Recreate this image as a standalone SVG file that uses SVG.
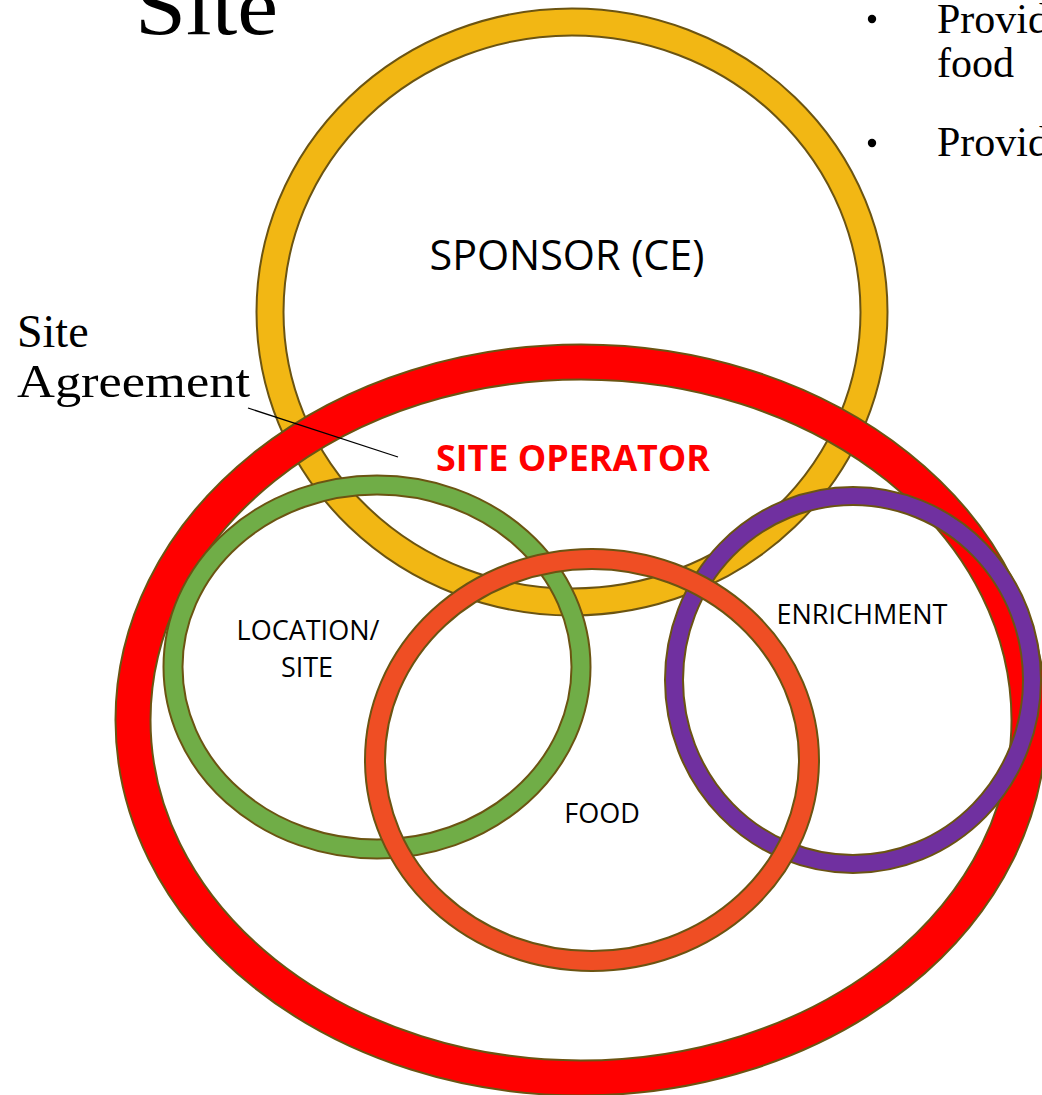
<svg xmlns="http://www.w3.org/2000/svg" width="1042" height="1095" viewBox="0 0 1042 1095">
<style>
.edge{fill:none;stroke:#6b5412}
.ring{fill:none}
.serif{font-family:"Liberation Serif","Times New Roman",serif;fill:#000}
.sans{font-family:"Open Sans","Liberation Sans",sans-serif;fill:#000}
.lbl{font-size:27px;text-anchor:middle}
</style>
<rect width="1042" height="1095" fill="#fff"/>
<text class="serif" x="135" y="34" font-size="82" textLength="143" lengthAdjust="spacingAndGlyphs">Site</text>
<g id="bullets">
<circle cx="872" cy="19" r="4.2" fill="#000"/>
<text class="serif" x="937" y="33" font-size="42">Provide</text>
<text class="serif" x="937" y="77" font-size="42">food</text>
<circle cx="872" cy="143" r="4.2" fill="#000"/>
<text class="serif" x="937" y="156" font-size="42">Provide</text>
</g>
<g id="sponsor">
<ellipse class="edge" cx="572" cy="312" rx="302" ry="290" stroke-width="29"/>
<ellipse class="ring" cx="572" cy="312" rx="302" ry="290" stroke="#f2b714" stroke-width="25"/>
<text class="sans" x="567" y="270" font-size="42" text-anchor="middle" textLength="275" lengthAdjust="spacingAndGlyphs">SPONSOR (CE)</text>
</g>
<g id="site-operator">
<ellipse class="edge" cx="581" cy="720" rx="448" ry="358" stroke-width="37"/>
<ellipse class="ring" cx="581" cy="720" rx="448" ry="358" stroke="#ff0000" stroke-width="33"/>
<text class="sans" x="573" y="471" font-size="36" font-weight="bold" style="fill:#ff0000" text-anchor="middle" textLength="274" lengthAdjust="spacingAndGlyphs">SITE OPERATOR</text>
</g>
<g id="location-site">
<ellipse class="edge" cx="377" cy="667" rx="204" ry="182" stroke-width="21"/>
<ellipse class="ring" cx="377" cy="667" rx="204" ry="182" stroke="#70ad47" stroke-width="17"/>
<text class="sans lbl" x="308" y="640">LOCATION/</text>
<text class="sans lbl" x="307" y="677">SITE</text>
</g>
<g id="enrichment">
<ellipse class="edge" cx="853" cy="680" rx="179" ry="184" stroke-width="20"/>
<ellipse class="ring" cx="853" cy="680" rx="179" ry="184" stroke="#7030a0" stroke-width="16"/>
<text class="sans lbl" x="862" y="624">ENRICHMENT</text>
</g>
<g id="food">
<ellipse class="edge" cx="592" cy="760" rx="217" ry="201" stroke-width="22"/>
<ellipse class="ring" cx="592" cy="760" rx="217" ry="201" stroke="#ef4e24" stroke-width="18"/>
<text class="sans lbl" x="602" y="823">FOOD</text>
</g>
<g id="site-agreement">
<text class="serif" x="17" y="347" font-size="46">Site</text>
<text class="serif" x="17" y="397" font-size="46" textLength="233" lengthAdjust="spacingAndGlyphs">Agreement</text>
</g>
<g id="connectors">
<line x1="248" y1="408" x2="398" y2="457" stroke="#000" stroke-width="1.3"/>
</g>
</svg>
